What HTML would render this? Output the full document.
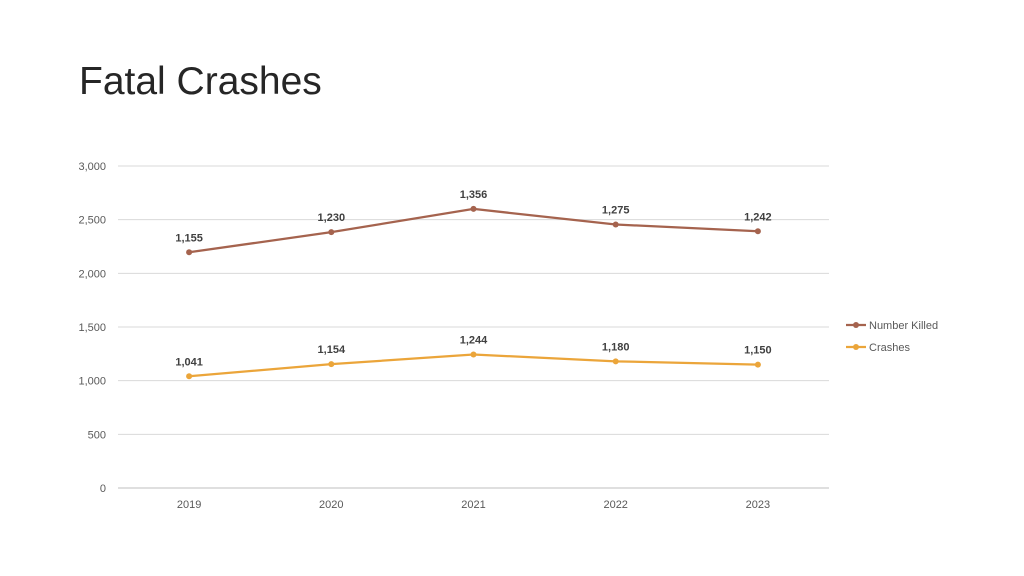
<!DOCTYPE html>
<html><head><meta charset="utf-8"><style>
body{margin:0;background:#fff;width:1024px;height:576px;overflow:hidden;font-family:"Liberation Sans",sans-serif}
#title{position:absolute;left:79px;top:60px;font-size:39px;color:#262626;font-weight:300;letter-spacing:0}
</style></head><body>
<div id="title">Fatal Crashes</div>
<svg id="chart" width="1024" height="576" style="position:absolute;left:0;top:0"></svg>
<script>
const categories=["2019","2020","2021","2022","2023"];
const crashes=[1041,1154,1244,1180,1150];
const killed=[1155,1230,1356,1275,1242];
const yTicks=[0,500,1000,1500,2000,2500,3000];
const seriesNames=["Number Killed","Crashes"];
const NS="http://www.w3.org/2000/svg";
const svg=document.getElementById('chart');
const x0=118,x1=829,y0=488,y1=166,ymax=3000;
const xs=i=>x0+(x1-x0)/categories.length*(i+0.5);
const ys=v=>y0-(y0-y1)*v/ymax;
function el(t,a,p){const e=document.createElementNS(NS,t);for(const k in a)e.setAttribute(k,a[k]);(p||svg).appendChild(e);return e;}
yTicks.forEach(v=>{
 const g=el('line',{x1:x0,x2:x1,y1:ys(v),y2:ys(v),stroke:v===0?'#bfbfbf':'#d9d9d9','stroke-width':1});
 
 
 const t=el('text',{x:106,y:ys(v)+4,'text-anchor':'end','font-size':11,fill:'#595959'});
 t.textContent=v.toLocaleString('en-US');
 
 
});
categories.forEach((c,i)=>{
 const t=el('text',{x:xs(i),y:508,'text-anchor':'middle','font-size':11,fill:'#595959'});
 t.textContent=c;
 
 
});
const stacked=killed.map((v,i)=>v+crashes[i]);
function series(vals,labels,color,name){
 const pts=vals.map((v,i)=>xs(i)+','+ys(v)).join(' ');
 const pl=el('polyline',{points:pts,fill:'none',stroke:color,'stroke-width':2.25});
 
 
 vals.forEach((v,i)=>{
  const c=el('circle',{cx:xs(i),cy:ys(v),r:3,fill:color});
  
  
  const t=el('text',{x:xs(i),y:ys(v)-11,'text-anchor':'middle','font-size':11,'font-weight':'bold',fill:'#404040'});
  t.textContent=labels[i].toLocaleString('en-US');
  
  
 });
}
series(stacked,killed,'#a5634e','number-killed');
series(crashes,crashes,'#eba53a','crashes');
[['#a5634e',325],['#eba53a',347]].forEach((d,i)=>{
 const l=el('line',{x1:846,x2:866,y1:d[1],y2:d[1],stroke:d[0],'stroke-width':2.25});
 
 
 const c=el('circle',{cx:856,cy:d[1],r:3,fill:d[0]});
 
 
 const t=el('text',{x:869,y:d[1]+4,'font-size':11,fill:'#595959'});
 t.textContent=seriesNames[i];
 
 
});
</script>
</body></html>
